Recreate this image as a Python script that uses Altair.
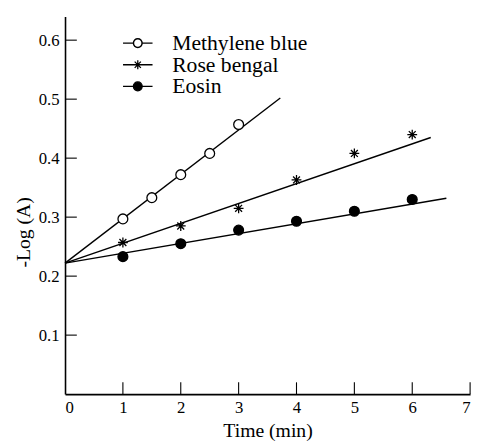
import altair as alt
import pandas as pd

# ---- data ----
series = ["Methylene blue", "Rose bengal", "Eosin"]

mb_time = [1, 1.5, 2, 2.5, 3]
mb_val = [0.297, 0.333, 0.372, 0.408, 0.457]

rb_time = [1, 2, 3, 4, 5, 6]
rb_val = [0.257, 0.285, 0.315, 0.363, 0.408, 0.440]

eo_time = [1, 2, 3, 4, 5, 6]
eo_val = [0.233, 0.255, 0.278, 0.293, 0.310, 0.330]

# fitted straight lines: start and end points per series
fit_x0 = [0.0, 0.0, 0.0]
fit_x1 = [3.72, 6.32, 6.59]
fit_y0 = [0.222, 0.222, 0.222]
fit_y1 = [0.502, 0.435, 0.332]

x_ticks = [0, 1, 2, 3, 4, 5, 6, 7]
y_ticks = [0.1, 0.2, 0.3, 0.4, 0.5, 0.6]
x_domain = [0, 7]
y_domain = [0, 0.64]

# ---- tables ----
pts = pd.DataFrame(
    {"series": [series[0]] * len(mb_time) + [series[1]] * len(rb_time) + [series[2]] * len(eo_time),
     "time": mb_time + rb_time + eo_time,
     "val": mb_val + rb_val + eo_val}
)
fits = pd.DataFrame(
    {"series": [s for s in series for _ in range(2)],
     "time": [v for pair in zip(fit_x0, fit_x1) for v in pair],
     "val": [v for pair in zip(fit_y0, fit_y1) for v in pair]}
)
xt = pd.DataFrame({"t": x_ticks[1:]})
yt = pd.DataFrame({"t": y_ticks})

FONT = "Liberation Serif"
W, H = 412, 384

xs = alt.Scale(domain=x_domain, nice=False, zero=False)
ys = alt.Scale(domain=y_domain, nice=False, zero=False)

x_axis = alt.Axis(
    orient="bottom", values=x_ticks, format="d", title="Time (min)",
    ticks=False, tickSize=0, grid=False, domainColor="black", domainWidth=1.6,
    labelFont=FONT, labelFontSize=17, labelColor="black", labelPadding=6,
    titleFont=FONT, titleFontSize=20, titleFontWeight="normal", titleColor="black",
    titlePadding=5)
y_axis = alt.Axis(
    orient="left", values=y_ticks, format=".1f", title="-Log (A)",
    ticks=False, tickSize=0, grid=False, domainColor="black", domainWidth=1.6,
    labelFont=FONT, labelFontSize=17, labelColor="black", labelPadding=6,
    titleFont=FONT, titleFontSize=20, titleFontWeight="normal", titleColor="black",
    titleX=-32, titleY=219)

asterisk = "M0,-1L0,1M-1,0L1,0M-0.7,-0.7L0.7,0.7M-0.7,0.7L0.7,-0.7"
marker_shapes = ["circle", asterisk, "circle"]
fills = ["white", "black", "black"]

# legend symbols: line segment with a marker in the middle (units of 9 px)
outer = "M-0.5,0A0.5,0.5,0,1,1,0.5,0A0.5,0.5,0,1,1,-0.5,0Z"
inner = "M-0.48,0A0.48,0.48,0,1,0,0.48,0A0.48,0.48,0,1,0,-0.48,0Z"
leg_open = "M-1.667,0L-0.5,0M0.5,0L1.667,0" + outer + inner
leg_star = "M-1.667,0L1.667,0M0,-0.5L0,0.5M-0.35,-0.35L0.35,0.35M-0.35,0.35L0.35,-0.35"
leg_fill = "M-1.667,0L1.667,0" + outer
legend_shapes = [leg_open, leg_star, leg_fill]

# fitted lines
lines = alt.Chart(fits).mark_line(color="black", strokeWidth=1.4).encode(
    x=alt.X("time:Q", scale=xs, axis=x_axis),
    y=alt.Y("val:Q", scale=ys, axis=y_axis),
    detail="series:N",
)

# inward tick marks
x_tick_marks = alt.Chart(xt).mark_tick(
    orient="vertical", size=12, thickness=1.1, color="black", opacity=1, yOffset=-6
).encode(
    x=alt.X("t:Q", scale=xs, axis=x_axis),
    y=alt.YDatum(0, axis=y_axis),
)
y_tick_marks = alt.Chart(yt).mark_tick(
    orient="horizontal", size=12, thickness=1.1, color="black", opacity=1, xOffset=6
).encode(
    y=alt.Y("t:Q", scale=ys, axis=y_axis),
    x=alt.XDatum(0, axis=x_axis),
)

# data points
points = alt.Chart(pts).mark_point(filled=True, stroke="black", strokeWidth=1.3, size=100, opacity=1).encode(
    x=alt.X("time:Q", scale=xs, axis=x_axis),
    y=alt.Y("val:Q", scale=ys, axis=y_axis),
    shape=alt.Shape("series:N", scale=alt.Scale(domain=series, range=marker_shapes), legend=None),
    fill=alt.Fill("series:N", scale=alt.Scale(domain=series, range=fills), legend=None),
)

# legend only (no marks drawn)
leg = alt.Legend(
    title=None, orient="none", legendX=63, legendY=16, padding=0,
    symbolSize=324, symbolStrokeWidth=1.3,
    labelFont=FONT, labelFontSize=22, labelColor="black", labelOffset=24, rowPadding=-4,
)
legend_layer = alt.Chart(pts).transform_filter("false").mark_point(
    filled=True, fill="black", stroke="black", strokeWidth=1.3, size=324, opacity=1
).encode(
    x=alt.X("time:Q", scale=xs, axis=x_axis),
    y=alt.Y("val:Q", scale=ys, axis=y_axis),
    shape=alt.Shape("series:N", scale=alt.Scale(domain=series, range=legend_shapes), legend=leg),
)

chart = (
    alt.layer(lines, x_tick_marks, y_tick_marks, points, legend_layer)
    .resolve_scale(shape="independent", fill="independent")
    .properties(
        width=W, height=H,
        autosize=alt.AutoSizeParams(type="none"),
        padding={"left": 58, "top": 5, "right": 6, "bottom": 45},
        background="white",
    )
    .configure_view(stroke=None)
)

chart.save("out.html", embed_options={"renderer": "svg", "actions": False})
